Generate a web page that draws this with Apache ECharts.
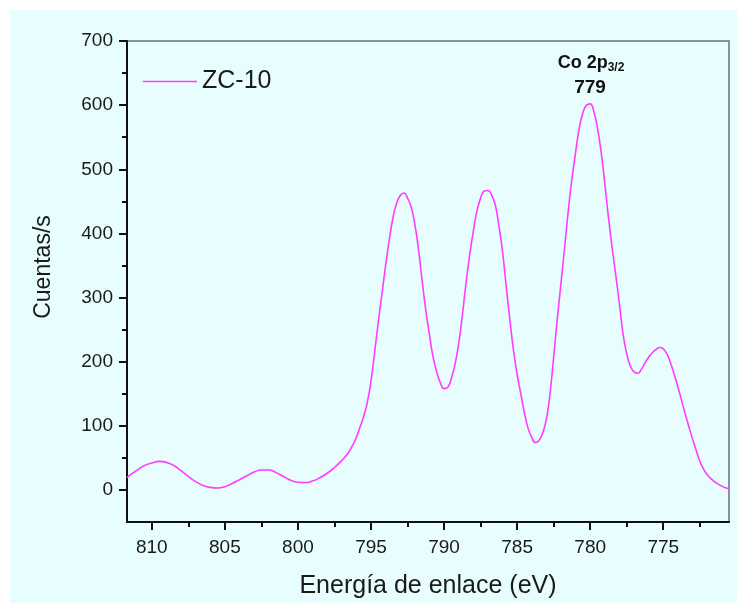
<!DOCTYPE html>
<html>
<head>
<meta charset="utf-8">
<script src="https://cdn.jsdelivr.net/npm/echarts@6/dist/echarts.min.js"></script>
<style>
html,body{margin:0;padding:0;background:#ffffff;}
#chart{width:737px;height:603px;}
</style>
</head>
<body>
<div id="chart"></div>
<script>
// Binding energy (eV)
const energy = [811.7,811.5,811,810.5,810,809.5,809,808.5,808,807.5,807,806.5,806,805.5,805,804.5,804,803.5,803,802.5,802,801.5,801,800.5,800,799.5,799,798.5,798,797.5,
797,796.75,796.5,796.25,796,795.75,795.5,795.25,795,794.75,794.5,794.25,794,793.75,793.5,793.25,793,792.75,792.5,792.25,792,791.75,791.5,791.25,791,790.75,790.5,790.25,790,
789.75,789.5,789.25,789,788.75,788.5,788.25,788,787.75,787.5,787.25,787,786.75,786.5,786.25,786,785.75,785.5,785.25,785,784.75,784.5,784.25,784,783.75,783.5,783.25,783,
782.75,782.5,782.25,782,781.75,781.5,781.25,781,780.75,780.5,780.25,780,779.75,779.5,779.25,779,778.75,778.5,778.25,778,777.75,777.5,777.25,777,776.75,776.5,776.25,776,
775.75,775.5,775.25,775,774.75,774.5,774.25,774,773.75,773.5,773.25,773,772.75,772.5,772.25,772,771.75,771.5,771.25,771,770.75,770.5];
// Counts per second
const counts = [19,23,31,38,42,44.5,43,38,30,21,13,7,4,3,5,10,16,22,28,31,31,27,21,15,12,11.5,14,19,26,35,
46,52,60,70,82,98,115,137,170,215,262,306,350,390,424,447,459,463,455,441,414,375,326,280,242,207,184,167,158,
160,174,196,228,272,322,366,403,435,455,466,467,460,445,412,372,318,266,218,180,150,120,96,82,74,77,89,110,
150,207,267,322,378,435,485,526,564,588,600,602,590,564,527,478,425,378,335,290,243,212,193,184,182,188,198,207,
214,219,222,220,212,198,180,161,140,119,99,80,62,45,33,24,18,13,9,6,3.5,2];
const xTicks = [810,805,800,795,790,785,780,775];
const xMinorTicks = [807.5,802.5,797.5,792.5,787.5,782.5,777.5,772.5];
const yTicks = [0,100,200,300,400,500,600,700];
const yMinorTicks = [50,150,250,350,450,550,650];
const seriesName = 'ZC-10';
const yTitle = 'Cuentas/s';
const xTitle = 'Energía de enlace (eV)';
const peakLabel = 'Co 2p';
const peakSub = '3/2';
const peakValue = '779';

const chart = echarts.init(document.getElementById('chart'), null, {renderer:'canvas'});
const fontFam = 'Liberation Sans, Arial, sans-serif';
const xMin = 770.5, xMax = 811.7, yMin = -50, yMax = 700;

const option = {
  animation:false,
  backgroundColor:'#ffffff',
  graphic:[
    {type:'rect', z:-10, shape:{x:10,y:10,width:727,height:593}, style:{fill:'#e8fdfd'}},
    {type:'text', z:10, x:44, y:267, rotation:Math.PI/2, style:{text:yTitle, font:'23px '+fontFam, fill:'#1a1a1a', align:'center', verticalAlign:'middle'}},
    {type:'text', z:10, x:428, y:586, style:{text:xTitle, font:'25px '+fontFam, fill:'#1a1a1a', align:'center', verticalAlign:'middle'}},
    {type:'text', z:10, x:591, y:63, style:{
      text:'{a|'+peakLabel+'}{s|'+peakSub+'}', align:'center', verticalAlign:'middle',
      rich:{a:{font:'bold 18px '+fontFam, fill:'#111'}, s:{font:'bold 12px '+fontFam, fill:'#111', padding:[9,0,0,0]}}
    }},
    {type:'text', z:10, x:590, y:88, style:{text:peakValue, font:'bold 19px '+fontFam, fill:'#111', align:'center', verticalAlign:'middle'}}
  ],
  grid:{show:true, left:127, right:8, top:41, bottom:81, borderColor:'#6a7080', borderWidth:1.5, backgroundColor:'transparent'},
  legend:{
    left:143, top:69, padding:0, itemWidth:54, itemHeight:1.6, itemGap:5, icon:'rect',
    textStyle:{fontSize:25, fontFamily:fontFam, color:'#1a1a1a', padding:[0,0,0,0]},
    data:[{name:seriesName, icon:'rect'}]
  },
  xAxis:[{
    type:'value', inverse:true, min:xMin, max:xMax,
    axisLine:{show:true, onZero:false, lineStyle:{color:'#111', width:2}},
    axisTick:{show:true, inside:false, length:8, lineStyle:{color:'#111', width:2}, customValues:xTicks},
    axisLabel:{margin:16, fontSize:19, fontFamily:fontFam, color:'#1a1a1a', customValues:xTicks},
    splitLine:{show:false}
  },{
    type:'value', inverse:true, min:xMin, max:xMax, position:'bottom',
    axisLine:{show:false, onZero:false},
    axisTick:{show:true, inside:false, length:5, lineStyle:{color:'#111', width:2}, customValues:xMinorTicks},
    axisLabel:{show:false, customValues:xMinorTicks},
    splitLine:{show:false}
  }],
  yAxis:[{
    type:'value', min:yMin, max:yMax,
    axisLine:{show:true, onZero:false, lineStyle:{color:'#111', width:2}},
    axisTick:{show:true, inside:false, length:8, lineStyle:{color:'#111', width:2}, customValues:yTicks},
    axisLabel:{margin:14, fontSize:19, fontFamily:fontFam, color:'#1a1a1a', customValues:yTicks},
    splitLine:{show:false}
  },{
    type:'value', min:yMin, max:yMax, position:'left',
    axisLine:{show:false, onZero:false},
    axisTick:{show:true, inside:false, length:5, lineStyle:{color:'#111', width:2}, customValues:yMinorTicks},
    axisLabel:{show:false, customValues:yMinorTicks},
    splitLine:{show:false}
  }],
  series:[{
    name:seriesName, type:'line', xAxisIndex:0, yAxisIndex:0,
    data:energy.map((e,i)=>[e,counts[i]]),
    smooth:0.5, symbol:'none', showSymbol:false,
    lineStyle:{color:'#ff3cff', width:1.6},
    itemStyle:{color:'#ff3cff'}
  }]
};
chart.setOption(option);
</script>
</body>
</html>
